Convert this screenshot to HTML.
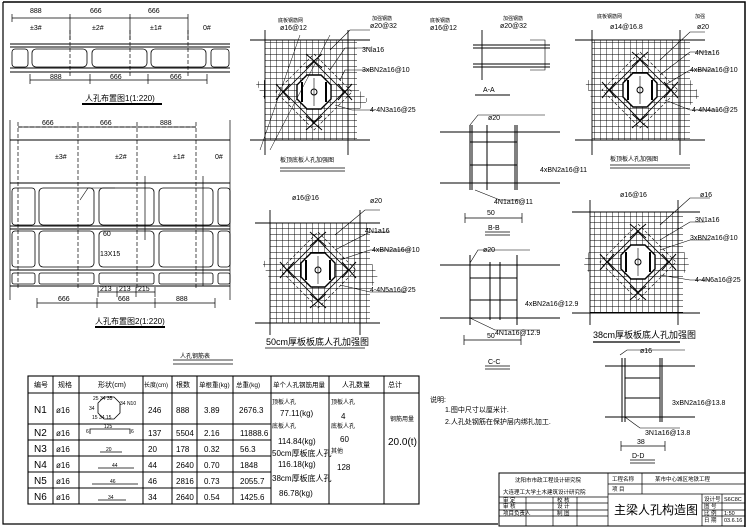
<!DOCTYPE html>
<html><head><meta charset="utf-8"><style>
html,body{margin:0;padding:0;background:#fff;}
svg{display:block;}
text{font-family:"Liberation Sans","Noto Sans CJK SC",sans-serif;fill:#000;}
</style></head><body>
<svg width="749" height="530" viewBox="0 0 749 530" xmlns="http://www.w3.org/2000/svg">
<defs>
<pattern id="g" width="6" height="6" patternUnits="userSpaceOnUse"><path d="M0 0H6M0 0V6" stroke="#000" stroke-width="0.9" fill="none"/></pattern>
<g id="oct">
<polygon points="-7,-17 7,-17 17,-7 17,7 7,17 -7,17 -17,7 -17,-7" fill="#fff" stroke="#000" stroke-width="1.4"/>
<polygon points="0,-30 30,0 0,30 -30,0" fill="none" stroke="#000" stroke-width="0.8"/>
<polygon points="0,-38 38,0 0,38 -38,0" fill="none" stroke="#000" stroke-width="0.6" stroke-dasharray="3,2"/>
<path d="M-8,-38 L8,-24 M8,-38 L-8,-24 M-8,38 L8,24 M8,38 L-8,24 M-38,-8 L-24,8 M-38,8 L-24,-8 M38,-8 L24,8 M38,8 L24,-8" stroke="#000" stroke-width="1"/>
<path d="M-12,-10 V10 M12,-10 V10" stroke="#000" stroke-width="2"/>
<path d="M0,-14 V14" stroke="#000" stroke-width="0.6"/>
<circle cx="0" cy="0" r="3" fill="none" stroke="#000"/>
</g>
</defs>
<g stroke="#000" fill="none" stroke-width="1">
<path d="M3 2 H745 V527" stroke-width="1.5"/>
<path d="M3 2 V524 H498" stroke-width="1.2"/>

<path d="M12 18 H188 M12 14V22 M70 14V40 M130 14V40 M188 14V40" stroke-width="0.7"/>
<path d="M10 44 H230 M10 47 H230 M10 68 H230 M10 72 H230"/>
<g stroke-width="0.8">
<rect x="12" y="49" width="16" height="18" rx="3"/>
<rect x="32" y="49" width="55" height="18" rx="4"/>
<rect x="92" y="49" width="55" height="18" rx="4"/>
<rect x="151" y="49" width="55" height="18" rx="4"/>
<rect x="211" y="49" width="18" height="18" rx="3"/>
</g>
<path d="M70 30 V78 M130 30 V78 M188 30 V78" stroke-dasharray="4,2" stroke-width="0.7"/>
<path d="M30 80 H207 M30 74V84 M90 74V84 M148 74V84 M207 74V84" stroke-width="0.7"/>
<path d="M82 104 H162" stroke-width="2"/>

<path d="M18 127 H196 M18 122V290 M78 122V290 M137 122V290 M196 122V290" stroke-width="0.7" stroke-dasharray="4,2"/>
<path d="M18 127 H196" stroke-width="0.7"/>
<path d="M10 140 H230 M10 183 H230 M10 226 H230 M10 229 H230 M10 270 H230 M10 286 H230"/>
<path d="M10 120 V300 M230 120 V300" stroke-width="0.7"/>
<g stroke-width="0.8">
<rect x="12" y="188" width="23" height="37" rx="3"/><rect x="39" y="188" width="55" height="37" rx="4"/><rect x="99" y="188" width="55" height="37" rx="4"/><rect x="159" y="188" width="54" height="37" rx="4"/><rect x="218" y="188" width="12" height="37" rx="3"/>
<rect x="12" y="231" width="23" height="36" rx="3"/><rect x="39" y="231" width="55" height="36" rx="4"/><rect x="99" y="231" width="55" height="36" rx="4"/><rect x="159" y="231" width="54" height="36" rx="4"/><rect x="218" y="231" width="12" height="36" rx="3"/>
<rect x="12" y="273" width="23" height="11" rx="2"/><rect x="39" y="273" width="55" height="11" rx="2"/><rect x="99" y="273" width="55" height="11" rx="2"/><rect x="159" y="273" width="54" height="11" rx="2"/><rect x="218" y="273" width="12" height="11" rx="2"/>
</g>
<path d="M98 292 H155 M98 287V297 M117 287V297 M136 287V297 M155 287V297" stroke-width="0.7"/>
<path d="M37 303 H215 M37 298V308 M97 298V308 M155 298V308 M215 298V308" stroke-width="0.7"/>
<path d="M95 327 H165" stroke-width="2"/>
<path d="M145 176 V240 M203 176 V286" stroke-width="0.7"/>
<path d="M80 200 L88 188 H115" stroke-width="0.6"/>

<g>
<polygon points="265,40 357,40 357,88 368,100 357,112 357,140 265,140 265,100 255,82 265,80" fill="url(#g)" stroke="none"/>
<path d="M250 40 H370 M250 140 H370 M265 30 V155 M348 30 V155" stroke-width="0.9"/>
<use href="#oct" x="314" y="92"/>
<path d="M300 35 L260 150 M330 35 L270 150" stroke-width="0.5"/>
<path d="M330 50 L350 30 H370 M330 70 L345 48 H370 M340 80 L345 70 H370 M335 105 L352 110 H375" stroke-width="0.6"/>
<path d="M280 168 H345 M280 171 H345" stroke-width="0.7"/>
</g>
<g>
<polygon points="592,40 690,40 690,80 700,95 690,105 690,140 592,140 592,100 585,82 592,78" fill="url(#g)" stroke="none"/>
<path d="M575 40 H705 M575 140 H705 M592 30 V155 M680 30 V155" stroke-width="0.9"/>
<use href="#oct" x="640" y="90"/>
<path d="M660 60 L690 32 H705 M660 75 L690 52 H710 M665 85 L690 70 H715 M665 100 L690 110 H720" stroke-width="0.6"/>
<path d="M610 165 H690 M610 168 H690" stroke-width="0.7"/>
</g>
<g>
<polygon points="270,223 370,223 370,260 378,275 370,290 370,323 270,323 270,280 262,262 270,258" fill="url(#g)" stroke="none"/>
<path d="M255 223 H380 M255 323 H380 M270 210 V335 M360 210 V335" stroke-width="0.9"/>
<use href="#oct" x="318" y="270"/>
<path d="M335 235 L365 210 H380 M335 250 L370 232 H390 M340 260 L370 250 H410 M340 285 L370 292 H405" stroke-width="0.6"/>
<path d="M265 348 H365" stroke-width="0.7"/>
</g>
<g>
<polygon points="590,212 683,212 683,250 690,262 683,275 683,313 590,313 590,275 583,262 590,250" fill="url(#g)" stroke="none"/>
<path d="M572 212 H700 M572 313 H700 M590 200 V325 M678 200 V325" stroke-width="0.9"/>
<use href="#oct" x="638" y="262"/>
<path d="M660 225 L690 198 H710 M660 240 L690 222 H705 M660 250 L690 240 H710 M660 275 L690 280 H710" stroke-width="0.6"/>
<path d="M593 342 H680" stroke-width="1.2"/>
</g>

<path d="M473 45 H550 M473 48 H550 M473 64 H550 M473 67 H550 M482 30 V80" stroke-width="0.9"/>
<path d="M530 40 H545 V70 H530" stroke-width="0.6"/>
<path d="M475 95 H510" stroke-width="1"/>
<path d="M440 132 H560 M440 183 H560 M470 125 V190 M472 125 V190 M487 125 V190 M515 125 V190 M517 125 V190 M470 142 H517 M470 165 H517"/>
<path d="M470 125 L478 115 H545 M475 190 L500 200 H520" stroke-width="0.6"/>
<path d="M465 218 H522 M465 213V223 M522 213V223" stroke-width="0.7"/>
<path d="M485 232 H510 M485 235 H510" stroke-width="0.8"/>
<path d="M440 265 H560 M440 318 H560 M470 255 V325 M517 255 V325 M490 262 V320 M500 262 V320 M470 278 H517 M470 300 H517"/>
<path d="M470 263 L478 250 H530 M470 318 L495 330 H540" stroke-width="0.6"/>
<path d="M464 340 H521 M464 335V345 M521 335V345" stroke-width="0.7"/>
<path d="M485 366 H510 M485 369 H510" stroke-width="0.8"/>
<path d="M605 366 H695 M605 417 H695 M622 358 V422 M625 358 V422 M660 358 V422 M662 358 V422 M625 378 H660 M625 398 H660"/>
<path d="M620 355 L627 350 H685 M625 417 L640 428 H680" stroke-width="0.6"/>
<path d="M621 446 H665 M621 441V451 M665 441V451" stroke-width="0.7"/>
<path d="M630 460 H655 M630 463 H655" stroke-width="0.8"/>

<path d="M173 360 H233 M173 364 H233" stroke-width="0.8"/>
<rect x="28" y="376" width="391" height="128" stroke-width="1.1"/>
<path d="M28 393 H419 M28 424 H271 M28 440 H271 M28 456 H271 M28 472 H271 M28 488 H271"/>
<path d="M53 376V504 M79 376V504 M143 376V504 M172 376V504 M197 376V504 M233 376V504 M271 376V504 M329 376V504 M384 376V504"/>
<polygon points="104,397 114,397 120,403 120,413 114,419 104,419 98,413 98,403" stroke-width="0.8"/>
<path d="M90 434 V429 H130 V434 M100 452 H122 M98 468 H134 M92 484 H138 M98 500 H126" stroke-width="0.8"/>

<rect x="499" y="473" width="246" height="53" stroke-width="1"/>
<path d="M608 473 V526 M499 497 H608 M499 503 H608 M499 510 H608 M499 516 H608 M608 484 H745 M608 494 H745 M642 473 V494 M702 494 V526 M722 494 V526 M702 503 H745 M702 510 H745 M702 516 H745 M526 497V526 M553 497V526 M577 497V526" stroke-width="0.7"/>
</g>

<g font-size="7">
<text x="30" y="13">888</text><text x="90" y="13">666</text><text x="148" y="13">666</text>
<text x="30" y="30">±3#</text><text x="92" y="30">±2#</text><text x="150" y="30">±1#</text><text x="203" y="30">0#</text>
<text x="50" y="79">888</text><text x="110" y="79">666</text><text x="170" y="79">666</text>
<text x="85" y="101" font-size="8">人孔布置图1(1:220)</text>
<text x="42" y="125">666</text><text x="100" y="125">666</text><text x="160" y="125">888</text>
<text x="55" y="159">±3#</text><text x="115" y="159">±2#</text><text x="173" y="159">±1#</text><text x="215" y="159">0#</text>
<text x="100" y="256">13X15</text><text x="103" y="236">60</text>
<text x="100" y="291">213</text><text x="119" y="291">213</text><text x="138" y="291">215</text>
<text x="58" y="301">666</text><text x="118" y="301">668</text><text x="176" y="301">888</text>
<text x="95" y="324" font-size="8">人孔布置图2(1:220)</text>

<text x="278" y="22" font-size="5">底板钢筋网</text><text x="280" y="30">ø16@12</text>
<text x="372" y="20" font-size="5">加强钢筋</text><text x="370" y="28">ø20@32</text>
<text x="362" y="52">3Nla16</text><text x="362" y="72">3xBN2a16@10</text><text x="370" y="112">4-4N3a16@25</text>
<text x="280" y="162" font-size="6">板顶底板人孔加强图</text>

<text x="430" y="22" font-size="5">底板钢筋</text><text x="430" y="30">ø16@12</text>
<text x="503" y="20" font-size="5">加强钢筋</text><text x="500" y="28">ø20@32</text>
<text x="483" y="92">A-A</text>
<text x="597" y="18" font-size="5">底板钢筋网</text><text x="610" y="29">ø14@16.8</text>
<text x="695" y="18" font-size="5">加强</text><text x="697" y="29">ø20</text>
<text x="695" y="55">4N1a16</text><text x="690" y="72">4xBN2a16@10</text><text x="692" y="112">4-4N4a16@25</text>
<text x="610" y="161" font-size="6">板顶板人孔加强图</text>

<text x="488" y="120">ø20</text><text x="540" y="172">4xBN2a16@11</text>
<text x="494" y="204">4N1a16@11</text><text x="487" y="215">50</text><text x="488" y="230">B-B</text>
<text x="483" y="252">ø20</text><text x="525" y="306">4xBN2a16@12.9</text>
<text x="495" y="335">4N1a16@12.9</text><text x="487" y="338">50</text><text x="488" y="364">C-C</text>
<text x="292" y="200">ø16@16</text><text x="370" y="203">ø20</text><text x="365" y="233">4N1a16</text><text x="372" y="252">4xBN2a16@10</text><text x="370" y="292">4-4N5a16@25</text>
<text x="266" y="345" font-size="9">50cm厚板板底人孔加强图</text>
<text x="620" y="197">ø16@16</text><text x="700" y="197">ø16</text><text x="695" y="222">3N1a16</text><text x="690" y="240">3xBN2a16@10</text><text x="695" y="282">4-4N6a16@25</text>
<text x="593" y="338" font-size="9">38cm厚板板底人孔加强图</text>
<text x="640" y="353">ø16</text><text x="672" y="405">3xBN2a16@13.8</text><text x="645" y="435">3N1a16@13.8</text>
<text x="637" y="444">38</text><text x="632" y="458">D-D</text>

<text x="430" y="402">说明:</text>
<text x="445" y="412">1.图中尺寸以厘米计.</text>
<text x="445" y="424">2.人孔处钢筋在保护层内绑扎加工.</text>

<text x="180" y="358" font-size="6">人孔钢筋表</text>
<text x="34" y="387">编号</text><text x="58" y="387">规格</text><text x="98" y="387">形状(cm)</text><text x="144" y="387" font-size="6">长度(cm)</text><text x="176" y="387">根数</text><text x="199" y="387" font-size="6.5">单根重(kg)</text><text x="236" y="387" font-size="6.5">总重(kg)</text><text x="273" y="387" font-size="6.5">单个人孔钢筋用量</text><text x="342" y="387">人孔数量</text><text x="388" y="387">总计</text>
<g font-size="10"><text x="34" y="413">N1</text><text x="34" y="436">N2</text><text x="34" y="452">N3</text><text x="34" y="468">N4</text><text x="34" y="484">N5</text><text x="34" y="500">N6</text></g>
<g font-size="8"><text x="56" y="413">ø16</text><text x="56" y="436">ø16</text><text x="56" y="452">ø16</text><text x="56" y="468">ø16</text><text x="56" y="484">ø16</text><text x="56" y="500">ø16</text>
<text x="148" y="413">246</text><text x="148" y="436">137</text><text x="148" y="452">20</text><text x="148" y="468">44</text><text x="148" y="484">46</text><text x="148" y="500">34</text>
<text x="176" y="413">888</text><text x="176" y="436">5504</text><text x="176" y="452">178</text><text x="176" y="468">2640</text><text x="176" y="484">2816</text><text x="176" y="500">2640</text>
<text x="204" y="413">3.89</text><text x="204" y="436">2.16</text><text x="204" y="452">0.32</text><text x="204" y="468">0.70</text><text x="204" y="484">0.73</text><text x="204" y="500">0.54</text>
<text x="239" y="413">2676.3</text><text x="240" y="436">11888.6</text><text x="240" y="452">56.3</text><text x="240" y="468">1848</text><text x="240" y="484">2055.7</text><text x="240" y="500">1425.6</text>
<text x="280" y="416">77.11(kg)</text><text x="278" y="444">114.84(kg)</text><text x="278" y="467">116.18(kg)</text><text x="279" y="496">86.78(kg)</text>
<text x="341" y="419">4</text><text x="340" y="442">60</text><text x="337" y="470">128</text></g>
<g font-size="6"><text x="272" y="404">顶板人孔</text><text x="272" y="428">底板人孔</text><text x="331" y="404">顶板人孔</text><text x="331" y="428">底板人孔</text><text x="331" y="453">其他</text><text x="390" y="421">钢筋用量</text></g>
<text x="272" y="456" font-size="8">50cm厚板底人孔</text><text x="272" y="481" font-size="8">38cm厚板底人孔</text>
<text x="388" y="445" font-size="10">20.0(t)</text>
<g font-size="5"><text x="93" y="400">25 34 35</text><text x="89" y="410">34</text><text x="120" y="405">34 N10</text><text x="92" y="419">15 34 15</text><text x="86" y="433">6</text><text x="104" y="428">125</text><text x="131" y="433">6</text><text x="106" y="451">20</text><text x="112" y="467">44</text><text x="110" y="483">46</text><text x="108" y="499">34</text></g>

<g font-size="5.5"><text x="515" y="482">沈阳市市政工程设计研究院</text><text x="503" y="494">大连理工大学土木建筑设计研究院</text>
<text x="612" y="481">工程名称</text><text x="655" y="481">某市中心城区地铁工程</text><text x="612" y="491">项 目</text>
<text x="503" y="502">审 定</text><text x="557" y="502">校 核</text><text x="503" y="508">审 核</text><text x="557" y="508">设 计</text><text x="503" y="515">项目负责人</text><text x="557" y="515">制 图</text>
<text x="704" y="501">设计号</text><text x="724" y="501">S6C8C</text><text x="704" y="508">图 号</text><text x="704" y="515">比 例</text><text x="724" y="515">1:50</text><text x="704" y="522">日 期</text><text x="724" y="522">03.6.16</text></g>
<text x="614" y="514" font-size="12">主梁人孔构造图</text>
</g>
</svg>
</body></html>
